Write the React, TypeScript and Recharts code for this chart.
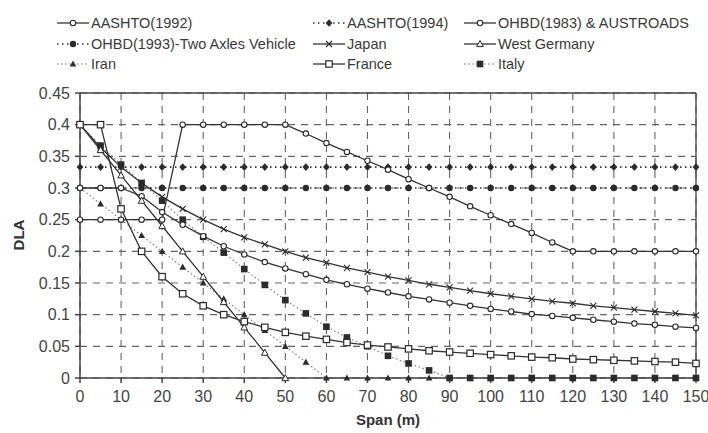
import React from 'react';
import { LineChart, Line, XAxis, YAxis, CartesianGrid, ReferenceLine } from 'recharts';

// span (m), one row every 5 m
const spans = [0, 5, 10, 15, 20, 25, 30, 35, 40, 45, 50, 55, 60, 65, 70, 75, 80, 85, 90, 95, 100, 105, 110, 115, 120, 125, 130, 135, 140, 145, 150];

const aashto1992 = [0.3, 0.3, 0.3, 0.287, 0.262, 0.242, 0.224, 0.208, 0.195, 0.183, 0.173, 0.164, 0.155, 0.148, 0.141, 0.135, 0.129, 0.124, 0.119, 0.114, 0.109, 0.105, 0.101, 0.098, 0.095, 0.092, 0.089, 0.086, 0.084, 0.081, 0.079];
const aashto1994 = [0.333, 0.333, 0.333, 0.333, 0.333, 0.333, 0.333, 0.333, 0.333, 0.333, 0.333, 0.333, 0.333, 0.333, 0.333, 0.333, 0.333, 0.333, 0.333, 0.333, 0.333, 0.333, 0.333, 0.333, 0.333, 0.333, 0.333, 0.333, 0.333, 0.333, 0.333];
const ohbd1983 = [0.25, 0.25, 0.25, 0.25, 0.25, 0.4, 0.4, 0.4, 0.4, 0.4, 0.4, 0.386, 0.371, 0.357, 0.343, 0.329, 0.314, 0.3, 0.286, 0.271, 0.257, 0.243, 0.229, 0.214, 0.2, 0.2, 0.2, 0.2, 0.2, 0.2, 0.2];
const ohbd1993 = [0.3, 0.3, 0.3, 0.3, 0.3, 0.3, 0.3, 0.3, 0.3, 0.3, 0.3, 0.3, 0.3, 0.3, 0.3, 0.3, 0.3, 0.3, 0.3, 0.3, 0.3, 0.3, 0.3, 0.3, 0.3, 0.3, 0.3, 0.3, 0.3, 0.3, 0.3];
const japan = [0.4, 0.364, 0.333, 0.308, 0.286, 0.267, 0.25, 0.235, 0.222, 0.211, 0.2, 0.19, 0.182, 0.174, 0.167, 0.16, 0.154, 0.148, 0.143, 0.138, 0.133, 0.129, 0.125, 0.121, 0.118, 0.114, 0.111, 0.108, 0.105, 0.102, 0.099];
const westGermany = [0.4, 0.36, 0.32, 0.28, 0.24, 0.2, 0.16, 0.12, 0.08, 0.04, 0, null, null, null, null, null, null, null, null, null, null, null, null, null, null, null, null, null, null, null, null];
const iran = [0.3, 0.275, 0.25, 0.225, 0.2, 0.175, 0.15, 0.125, 0.1, 0.075, 0.05, 0.025, 0, 0, 0, 0, 0, 0, 0, 0, 0, 0, 0, 0, 0, 0, 0, 0, 0, 0, 0];
const france = [0.4, 0.4, 0.267, 0.2, 0.16, 0.133, 0.114, 0.1, 0.089, 0.08, 0.072, 0.066, 0.061, 0.056, 0.052, 0.049, 0.046, 0.043, 0.041, 0.039, 0.037, 0.035, 0.033, 0.032, 0.03, 0.029, 0.028, 0.027, 0.026, 0.025, 0.023];
const italy = [0.4, 0.367, 0.337, 0.308, 0.28, 0.25, 0.223, 0.198, 0.172, 0.147, 0.123, 0.102, 0.081, 0.064, 0.05, 0.035, 0.023, 0.012, 0, 0, 0, 0, 0, 0, 0, 0, 0, 0, 0, 0, 0];

const xTicks = [0, 10, 20, 30, 40, 50, 60, 70, 80, 90, 100, 110, 120, 130, 140, 150];
const yTicks = [0, 0.05, 0.1, 0.15, 0.2, 0.25, 0.3, 0.35, 0.4, 0.45];

const data = spans.map((span, i) => ({
  span,
  aashto1992: aashto1992[i],
  aashto1994: aashto1994[i],
  ohbd1983: ohbd1983[i],
  ohbd1993: ohbd1993[i],
  japan: japan[i],
  westGermany: westGermany[i],
  iran: iran[i],
  france: france[i],
  italy: italy[i],
}));

type Kind = 'openCircle' | 'diamond' | 'dot' | 'cross' | 'openTriangle' | 'triangle' | 'openSquare' | 'square';

const INK = '#2b2b2b';
const FONT = '"Liberation Sans", Arial, sans-serif';

// legend order (row by row)
const series: { key: string; name: string; kind: Kind; dotted: boolean; heavy?: boolean }[] = [
  { key: 'aashto1992', name: 'AASHTO(1992)', kind: 'openCircle', dotted: false },
  { key: 'aashto1994', name: 'AASHTO(1994)', kind: 'diamond', dotted: true, heavy: true },
  { key: 'ohbd1983', name: 'OHBD(1983) & AUSTROADS', kind: 'openCircle', dotted: false },
  { key: 'ohbd1993', name: 'OHBD(1993)-Two Axles Vehicle', kind: 'dot', dotted: true, heavy: true },
  { key: 'japan', name: 'Japan', kind: 'cross', dotted: false },
  { key: 'westGermany', name: 'West Germany', kind: 'openTriangle', dotted: false },
  { key: 'iran', name: 'Iran', kind: 'triangle', dotted: true },
  { key: 'france', name: 'France', kind: 'openSquare', dotted: false },
  { key: 'italy', name: 'Italy', kind: 'square', dotted: true },
];

function Marker({ kind, x, y }: { kind: Kind; x: number; y: number }) {
  switch (kind) {
    case 'openCircle':
      return <circle cx={x} cy={y} r={2.7} fill="#fff" stroke={INK} strokeWidth={1.1} />;
    case 'dot':
      return <circle cx={x} cy={y} r={3.2} fill={INK} />;
    case 'diamond':
      return <polygon points={`${x},${y - 3.8} ${x + 3.4},${y} ${x},${y + 3.8} ${x - 3.4},${y}`} fill={INK} />;
    case 'cross':
      return (
        <g stroke={INK} strokeWidth={1.1}>
          <line x1={x - 3} y1={y - 3} x2={x + 3} y2={y + 3} />
          <line x1={x - 3} y1={y + 3} x2={x + 3} y2={y - 3} />
        </g>
      );
    case 'openTriangle':
      return <polygon points={`${x},${y - 3.5} ${x + 3.3},${y + 2.6} ${x - 3.3},${y + 2.6}`} fill="#fff" stroke={INK} strokeWidth={1} />;
    case 'triangle':
      return <polygon points={`${x},${y - 3.6} ${x + 3.3},${y + 2.6} ${x - 3.3},${y + 2.6}`} fill={INK} />;
    case 'openSquare':
      return <rect x={x - 3.2} y={y - 3.2} width={6.4} height={6.4} fill="#fff" stroke={INK} strokeWidth={1.2} />;
    case 'square':
      return <rect x={x - 3.3} y={y - 3.3} width={6.6} height={6.6} fill={INK} />;
  }
  return null;
}

function makeDot(kind: Kind) {
  return (props: any) => {
    const { cx, cy, index, value } = props;
    if (value == null || cx == null || cy == null) return <g key={`d-${index}`} />;
    return (
      <g key={`d-${index}`}>
        <Marker kind={kind} x={cx} y={cy} />
      </g>
    );
  };
}

function lineStyle(s: { dotted: boolean; heavy?: boolean }) {
  if (!s.dotted) return { stroke: '#333', strokeWidth: 1.3 };
  if (s.heavy) return { stroke: '#333', strokeWidth: 1.6, strokeDasharray: '1.5 3.5' };
  return { stroke: '#777', strokeWidth: 1.1, strokeDasharray: '1.5 2.5' };
}

function LegendBox() {
  const colX = [57, 313, 464];
  const rowY = [23, 44, 64];
  return (
    <>
      {series.map((s, i) => {
        const col = i % 3;
        const row = Math.floor(i / 3);
        const st = lineStyle(s);
        return (
          <div
            key={s.key}
            style={{
              position: 'absolute',
              left: colX[col],
              top: rowY[row] - 9,
              height: 18,
              display: 'flex',
              alignItems: 'center',
              whiteSpace: 'nowrap',
              fontFamily: FONT,
              fontSize: 14.5,
              color: '#3a3a3a',
            }}
          >
            <svg width={32} height={12} style={{ marginRight: 2 }}>
              <line x1={0} y1={6} x2={32} y2={6} {...st} />
              <Marker kind={s.kind} x={16} y={6} />
            </svg>
            <span>{s.name}</span>
          </div>
        );
      })}
    </>
  );
}

export default function App() {
  const dottedFirst = [...series.filter((s) => s.dotted), ...series.filter((s) => !s.dotted)];
  return (
    <div style={{ position: 'absolute', left: 0, top: 0, width: 708, height: 433, background: '#fff' }}>
      <LineChart width={708} height={433} data={data} margin={{ top: 93, right: 12, bottom: 25, left: 0 }}>
        <CartesianGrid stroke="#666" strokeWidth={1.1} strokeDasharray="7 6" />
        <XAxis
          dataKey="span"
          type="number"
          domain={[0, 150]}
          ticks={xTicks}
          height={30}
          tickSize={5}
          tickMargin={8}
          stroke="#444"
          strokeWidth={1.5}
          tick={{ fill: '#444', fontSize: 16, fontFamily: FONT }}
        />
        <YAxis
          type="number"
          domain={[0, 0.45]}
          ticks={yTicks}
          width={80}
          tickSize={5}
          tickMargin={5}
          stroke="#444"
          strokeWidth={1.5}
          tick={{ fill: '#444', fontSize: 16, fontFamily: FONT }}
        />
        <ReferenceLine y={0.45} stroke="#444" strokeWidth={1.3} />
        <ReferenceLine x={150} stroke="#444" strokeWidth={1.3} />
        {dottedFirst.map((s) => (
          <Line
            key={s.key}
            dataKey={s.key}
            name={s.name}
            type="linear"
            {...lineStyle(s)}
            dot={makeDot(s.kind)}
            activeDot={false}
            connectNulls={false}
            isAnimationActive={false}
          />
        ))}
        <text x={388} y={425} textAnchor="middle" fontFamily={FONT} fontWeight="bold" fontSize={15} fill="#333">
          Span (m)
        </text>
        <text
          x={24}
          y={235}
          textAnchor="middle"
          fontFamily={FONT}
          fontWeight="bold"
          fontSize={15}
          fill="#333"
          transform="rotate(-90 24 235)"
        >
          DLA
        </text>
      </LineChart>
      <LegendBox />
    </div>
  );
}
